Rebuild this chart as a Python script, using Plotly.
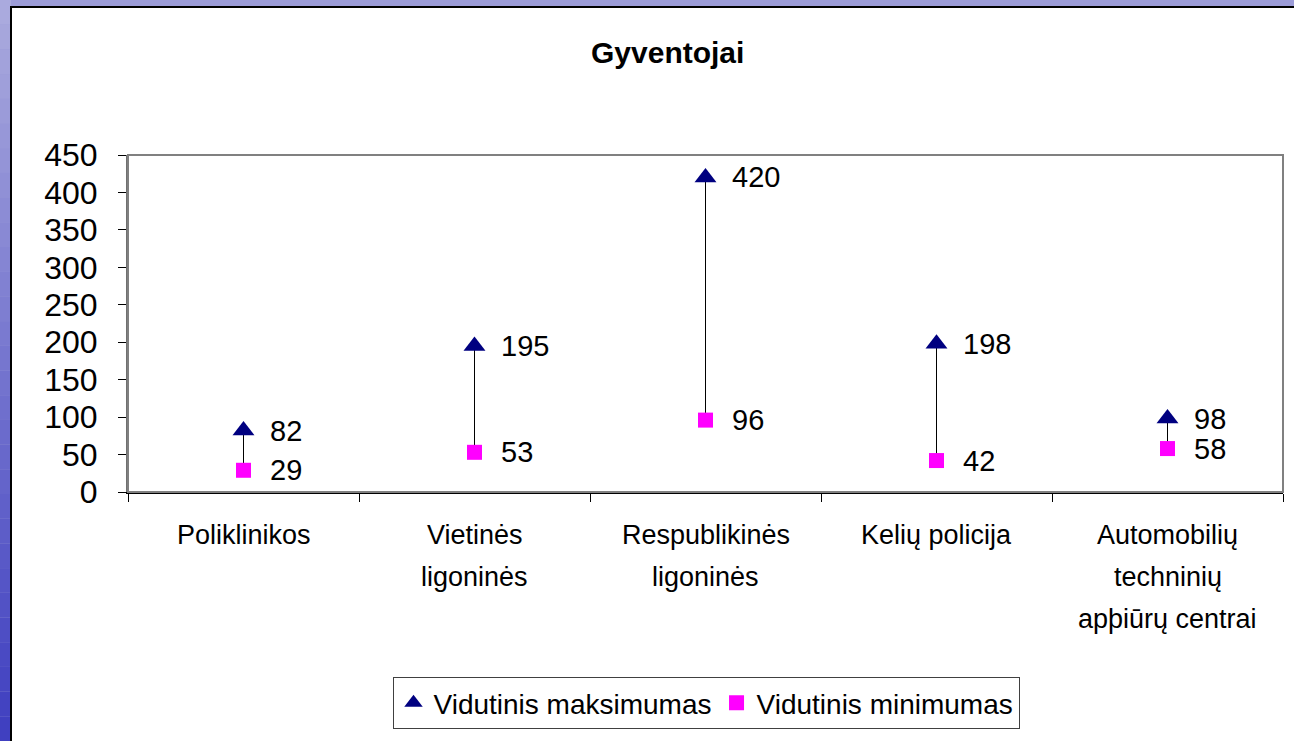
import plotly.graph_objects as go

categories = ["Poliklinikos", "Vietinės<br>ligoninės", "Respublikinės<br>ligoninės",
              "Kelių policija", "Automobilių<br>techninių<br>apþiūrų centrai"]
max_values = [82, 195, 420, 198, 98]
min_values = [29, 53, 96, 42, 58]
y_ticks = [0, 50, 100, 150, 200, 250, 300, 350, 400, 450]

FONT = "Liberation Sans, Arial, sans-serif"

fig = go.Figure()

# high-low lines
hx, hy = [], []
for c, lo, hi in zip(categories, min_values, max_values):
    hx += [c, c, None]
    hy += [lo, hi, None]
fig.add_trace(go.Scatter(x=hx, y=hy, mode="lines", line=dict(color="black", width=1),
                         showlegend=False, hoverinfo="skip"))

fig.add_trace(go.Scatter(x=categories, y=max_values, mode="markers", name="Vidutinis maksimumas",
                         marker=dict(symbol="triangle-up", size=19, color="#000080")))
fig.add_trace(go.Scatter(x=categories, y=min_values, mode="markers", name="Vidutinis minimumas",
                         marker=dict(symbol="square", size=15, color="#FF00FF")))

L, R, T, B = 128, 1283, 155, 492
W, H = R - L, B - T
def px_x(p): return (p - L) / W
def px_y(p): return (B - p) / H

annotations = []
for c, v in list(zip(categories, max_values)) + list(zip(categories, min_values)):
    annotations.append(dict(x=c, y=v, text=str(v), showarrow=False, xanchor="left",
                            yanchor="middle", xshift=24, font=dict(size=29, color="black", family=FONT)))

# category labels, one line each, with the reference's wide line spacing
for c in categories:
    for k, line in enumerate(c.split("<br>")):
        annotations.append(dict(x=c, y=px_y(535 + 42 * k), xref="x", yref="paper", text=line,
                                showarrow=False, xanchor="center", yanchor="middle",
                                font=dict(size=27, color="black", family=FONT)))

annotations.append(dict(x=px_x(667), y=px_y(52), xref="paper", yref="paper", xanchor="center",
                        yanchor="middle", text="<b>Gyventojai</b>", showarrow=False,
                        font=dict(size=30, color="black", family=FONT)))

# background decoration: frame + left gradient strip
shapes = []
n = 30
for i in range(n):
    y0 = 741 * i / n
    y1 = 741 * (i + 1) / n
    t = i / (n - 1)
    r = int(170 + (64 - 170) * t)
    g = int(170 + (64 - 170) * t)
    b = int(222 + (192 - 222) * t)
    shapes.append(dict(type="rect", xref="paper", yref="paper", x0=px_x(-5), x1=px_x(11),
                       y0=px_y(y1), y1=px_y(y0), fillcolor=f"rgb({r},{g},{b})", line=dict(width=0),
                       layer="below"))
shapes.append(dict(type="rect", xref="paper", yref="paper", x0=px_x(11), x1=px_x(1310),
                   y0=px_y(760), y1=px_y(7), fillcolor="white", line=dict(color="black", width=2),
                   layer="below"))
shapes.append(dict(type="rect", xref="paper", yref="paper", x0=0, x1=1, y0=0, y1=1,
                   line=dict(color="#808080", width=2), layer="above"))

fig.update_layout(
    width=1294, height=741,
    margin=dict(l=L, r=1294 - R, t=T, b=741 - B),
    paper_bgcolor="#9c9cd8", plot_bgcolor="white",
    font=dict(family=FONT, color="black"),
    showlegend=True,
    legend=dict(orientation="h", x=px_x(706), xanchor="center", y=px_y(677), yanchor="top",
                font=dict(size=28, family=FONT), bordercolor="#404040", borderwidth=1,
                bgcolor="white"),
    annotations=annotations,
    shapes=shapes,
)
fig.update_xaxes(type="category", categoryorder="array", categoryarray=categories,
                 range=[-0.5, 4.5], showgrid=False, showline=True, linecolor="black", linewidth=1.5,
                 ticks="outside", tickson="boundaries", ticklen=8, tickcolor="black",
                 showticklabels=False, zeroline=False)
fig.update_yaxes(range=[0, 450], tickvals=y_ticks, showgrid=False, showline=True,
                 linecolor="#707070", linewidth=2, ticks="outside", ticklen=8, tickcolor="black",
                 tickfont=dict(size=32, family=FONT), ticklabelstandoff=14, zeroline=False)

fig.write_html("out.html", config={"displayModeBar": False},
               post_script="document.body.style.margin='0';document.body.style.overflow='hidden';")
